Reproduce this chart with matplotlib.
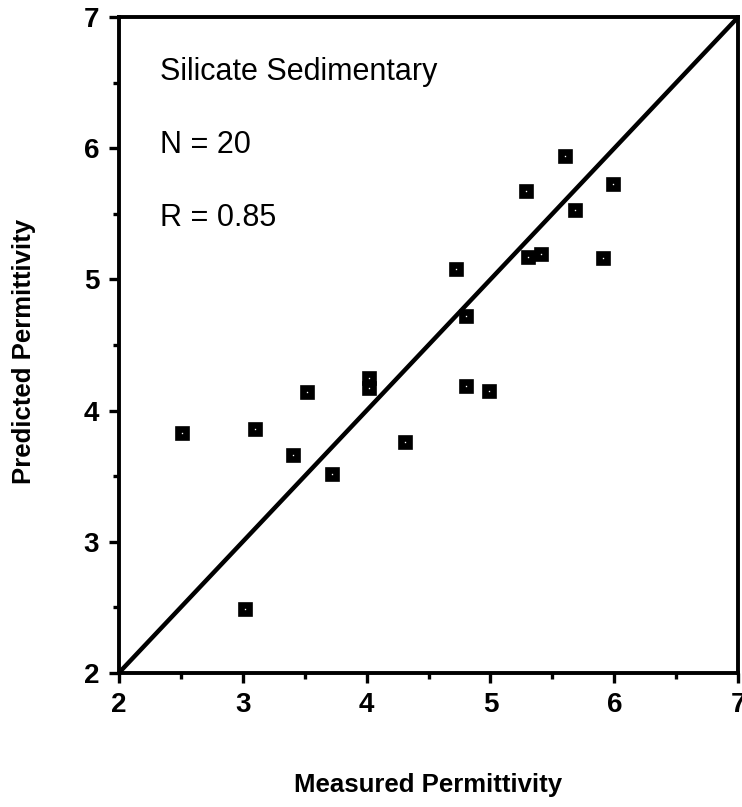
import matplotlib.pyplot as plt
import numpy as np

# Measured vs predicted permittivity, silicate sedimentary samples
measured = [2.51, 3.10, 3.41, 3.52, 3.72, 3.02, 4.02, 4.02, 4.31, 4.72,
            4.80, 4.80, 4.99, 5.29, 5.30, 5.41, 5.60, 5.68, 5.91, 5.99]
predicted = [3.83, 3.86, 3.66, 4.14, 3.52, 2.49, 4.25, 4.17, 3.76, 5.08,
             4.72, 4.19, 4.15, 5.67, 5.17, 5.19, 5.94, 5.53, 5.16, 5.73]
major_ticks = [2, 3, 4, 5, 6, 7]
minor_ticks = [2.5, 3.5, 4.5, 5.5, 6.5]
notes = ["Silicate Sedimentary", "N = 20", "R = 0.85"]
note_y = [6.52, 5.96, 5.41]

plt.rcParams['font.family'] = ['Liberation Sans', 'DejaVu Sans']

fig = plt.figure(figsize=(7.42, 8.07), dpi=100)
ax = fig.add_axes([0.160, 0.166, 0.835, 0.813])

# 1:1 line
ax.plot([2, 7], [2, 7], color='black', lw=3.2, solid_capstyle='butt')

ax.plot(measured, predicted, linestyle='none', marker='s', ms=6.3, mfc='white',
        mec='black', mew=4.8)

ax.set_xlim(2, 7)
ax.set_ylim(2, 7)
ax.set_xticks(major_ticks)
ax.set_yticks(major_ticks)
ax.set_xticks(minor_ticks, minor=True)
ax.set_yticks(minor_ticks, minor=True)
ax.tick_params(which='both', direction='out', width=2.4, top=False, right=False)
ax.tick_params(which='major', length=7, pad=7, labelsize=20)
ax.tick_params(which='minor', length=4)
for lab in ax.get_xticklabels() + ax.get_yticklabels():
    lab.set_fontweight('bold')
for sp in ax.spines.values():
    sp.set_linewidth(2.8)

for txt, y in zip(notes, note_y):
    ax.text(2.33, y, txt, fontsize=22, ha='left', va='baseline')

fig.text(0.032, 0.565, "Predicted Permittivity", rotation=90, fontsize=18.5,
         fontweight='bold', ha='center', va='center')
fig.text(0.577, 0.027, "Measured Permittivity", fontsize=18.5,
         fontweight='bold', ha='center', va='center')

fig.savefig('out.png', dpi=100)
